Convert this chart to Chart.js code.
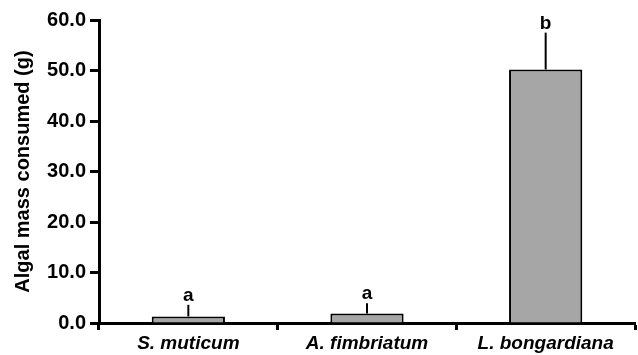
<!DOCTYPE html>
<html>
<head>
<meta charset="utf-8">
<script src="https://cdn.jsdelivr.net/npm/chart.js@4"></script>
<style>
  html, body { margin: 0; padding: 0; background: #fff; }
  #wrap { width: 638px; height: 355px; }
</style>
</head>
<body>
<div id="wrap"><canvas id="chart"></canvas></div>
<script>
const species = ["S. muticum", "A. fimbriatum", "L. bongardiana"];
const consumed = [1.3, 1.9, 50.2];
const stdErr = [2.3, 2.0, 7.3];
const groupLetters = ["a", "a", "b"];
const yTicks = [0, 10, 20, 30, 40, 50, 60];

const FONT = "'Liberation Sans', Arial, Helvetica, sans-serif";

// upper error bars + significance letters
const errorBars = {
    id: "errorBars",
    afterDatasetsDraw(chart) {
        const { ctx, scales } = chart;
        const bars = chart.getDatasetMeta(0).data;
        ctx.save();
        ctx.strokeStyle = "#000";
        ctx.lineWidth = 2;
        ctx.fillStyle = "#000";
        ctx.font = "bold 19px " + FONT;
        ctx.textAlign = "center";
        ctx.textBaseline = "alphabetic";
        bars.forEach((bar, i) => {
            const top = scales.y.getPixelForValue(consumed[i] + stdErr[i]);
            ctx.beginPath();
            ctx.moveTo(bar.x, bar.y);
            ctx.lineTo(bar.x, top);
            ctx.stroke();
            ctx.fillText(groupLetters[i], bar.x, top - 4);
        });
        ctx.restore();
    },
};

new Chart(document.getElementById("chart"), {
    type: "bar",
    data: {
        labels: species,
        datasets: [
            {
                data: consumed,
                backgroundColor: "#a6a6a6",
                borderColor: "#000",
                borderWidth: 2,
                barPercentage: 0.41,
                categoryPercentage: 1,
            },
        ],
    },
    options: {
        responsive: true,
        maintainAspectRatio: false,
        animation: false,
        layout: { padding: { top: 20, right: 3, left: 0, bottom: 0 } },
        plugins: {
            legend: { display: false },
            tooltip: { enabled: false },
        },
        scales: {
            x: {
                grid: {
                    offset: true,
                    drawOnChartArea: false,
                    tickLength: 7,
                    tickWidth: 3,
                    tickColor: "#000",
                },
                border: { color: "#000", width: 3 },
                ticks: {
                    color: "#000",
                    padding: 2,
                    maxRotation: 0,
                    font: { family: FONT, size: 19, style: "italic", weight: "bold" },
                },
                afterFit: (scale) => { scale.height = 32; },
            },
            y: {
                min: 0,
                max: 60,
                afterBuildTicks: (scale) => {
                    scale.ticks = yTicks.map((v) => ({ value: v }));
                },
                grid: {
                    drawOnChartArea: false,
                    tickLength: 9,
                    tickWidth: 3,
                    tickColor: "#000",
                },
                border: { color: "#000", width: 3 },
                ticks: {
                    color: "#000",
                    padding: 4,
                    callback: (v) => Number(v).toFixed(1),
                    font: { family: FONT, size: 20, weight: "bold" },
                },
                title: {
                    display: true,
                    text: "Algal mass consumed (g)",
                    color: "#000",
                    padding: { top: 11, bottom: 0 },
                    font: { family: FONT, size: 20, weight: "bold" },
                },
                afterFit: (scale) => { scale.width = 99; },
            },
        },
    },
    plugins: [errorBars],
});
</script>
</body>
</html>
